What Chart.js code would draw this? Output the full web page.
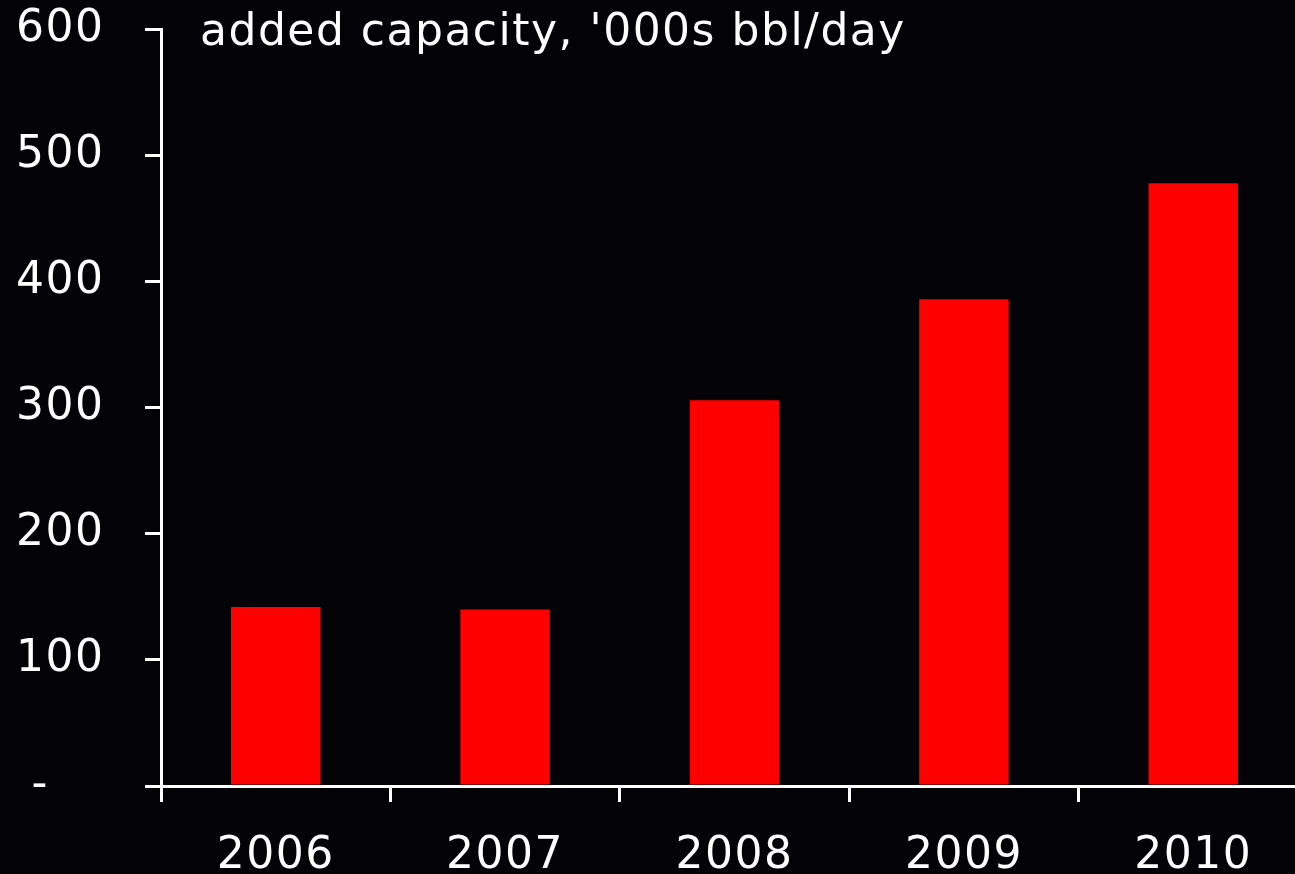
<!DOCTYPE html>
<html>
<head>
<meta charset="utf-8">
<script src="https://cdn.jsdelivr.net/npm/chart.js@4"></script>
<style>
  html, body { margin: 0; padding: 0; background: #020207; overflow: hidden; }
  #wrap { width: 1320px; height: 874px; }
</style>
</head>
<body>
<div id="wrap"><canvas id="myChart"></canvas></div>
<script>
const years = ['2006', '2007', '2008', '2009', '2010'];
const addedCapacity = [142, 140, 306, 386, 478];
const yTicks = [0, 100, 200, 300, 400, 500, 600];
const chartNote = "added capacity, '000s bbl/day";

const FONT = '"DejaVu Sans", Verdana, sans-serif';
Chart.defaults.font.family = FONT;
Chart.defaults.font.size = 44;
Chart.defaults.color = '#ffffff';

// letter spacing + the note in the top left corner
let spacingPlugin = {
  id: 'spacing',
  beforeDraw: (chart) => {
    chart.ctx.letterSpacing = '1.5px';
  },
  afterDraw: (chart) => {
    let ctx = chart.ctx;
    ctx.save();
    ctx.letterSpacing = '1.5px';
    ctx.fillStyle = '#ffffff';
    ctx.font = '44px ' + FONT;
    ctx.textBaseline = 'alphabetic';
    ctx.fillText(chartNote, chart.chartArea.left + 39, 45);
    ctx.restore();
  }
};

let ctx = document.getElementById('myChart').getContext('2d');
let chart = new Chart(ctx, {
  type: 'bar',
  data: {
    labels: years,
    datasets: [{
      data: addedCapacity,
      backgroundColor: '#ff0000',
      barPercentage: 0.39,
      categoryPercentage: 1.0
    }]
  },
  options: {
    responsive: true,
    maintainAspectRatio: false,
    animation: false,
    layout: { padding: { left: 16, right: 12, top: 8, bottom: 0 } },
    plugins: {
      legend: { display: false },
      tooltip: { enabled: false }
    },
    scales: {
      x: {
        offset: true,
        afterFit: (s) => { s.height = 88; },
        grid: {
          offset: true,
          drawOnChartArea: false,
          drawTicks: true,
          tickLength: 16,
          lineWidth: 3,
          color: (c) => c.type === 'tick' ? '#ffffff' : 'rgba(0,0,0,0)'
        },
        border: { color: '#ffffff', width: 3 },
        ticks: { padding: 28, maxRotation: 0 }
      },
      y: {
        min: 0,
        max: 600,
        afterBuildTicks: (s) => { s.ticks = yTicks.map(v => ({ value: v })); },
        afterFit: (s) => { s.width = 145; },
        grid: {
          drawOnChartArea: false,
          drawTicks: true,
          tickLength: 16,
          lineWidth: 3,
          color: '#ffffff'
        },
        border: { color: '#ffffff', width: 3 },
        ticks: {
          crossAlign: 'far',
          callback: (v) => v === 0 ? ' -' : String(v)
        }
      }
    }
  },
  plugins: [spacingPlugin]
});
</script>
</body>
</html>
